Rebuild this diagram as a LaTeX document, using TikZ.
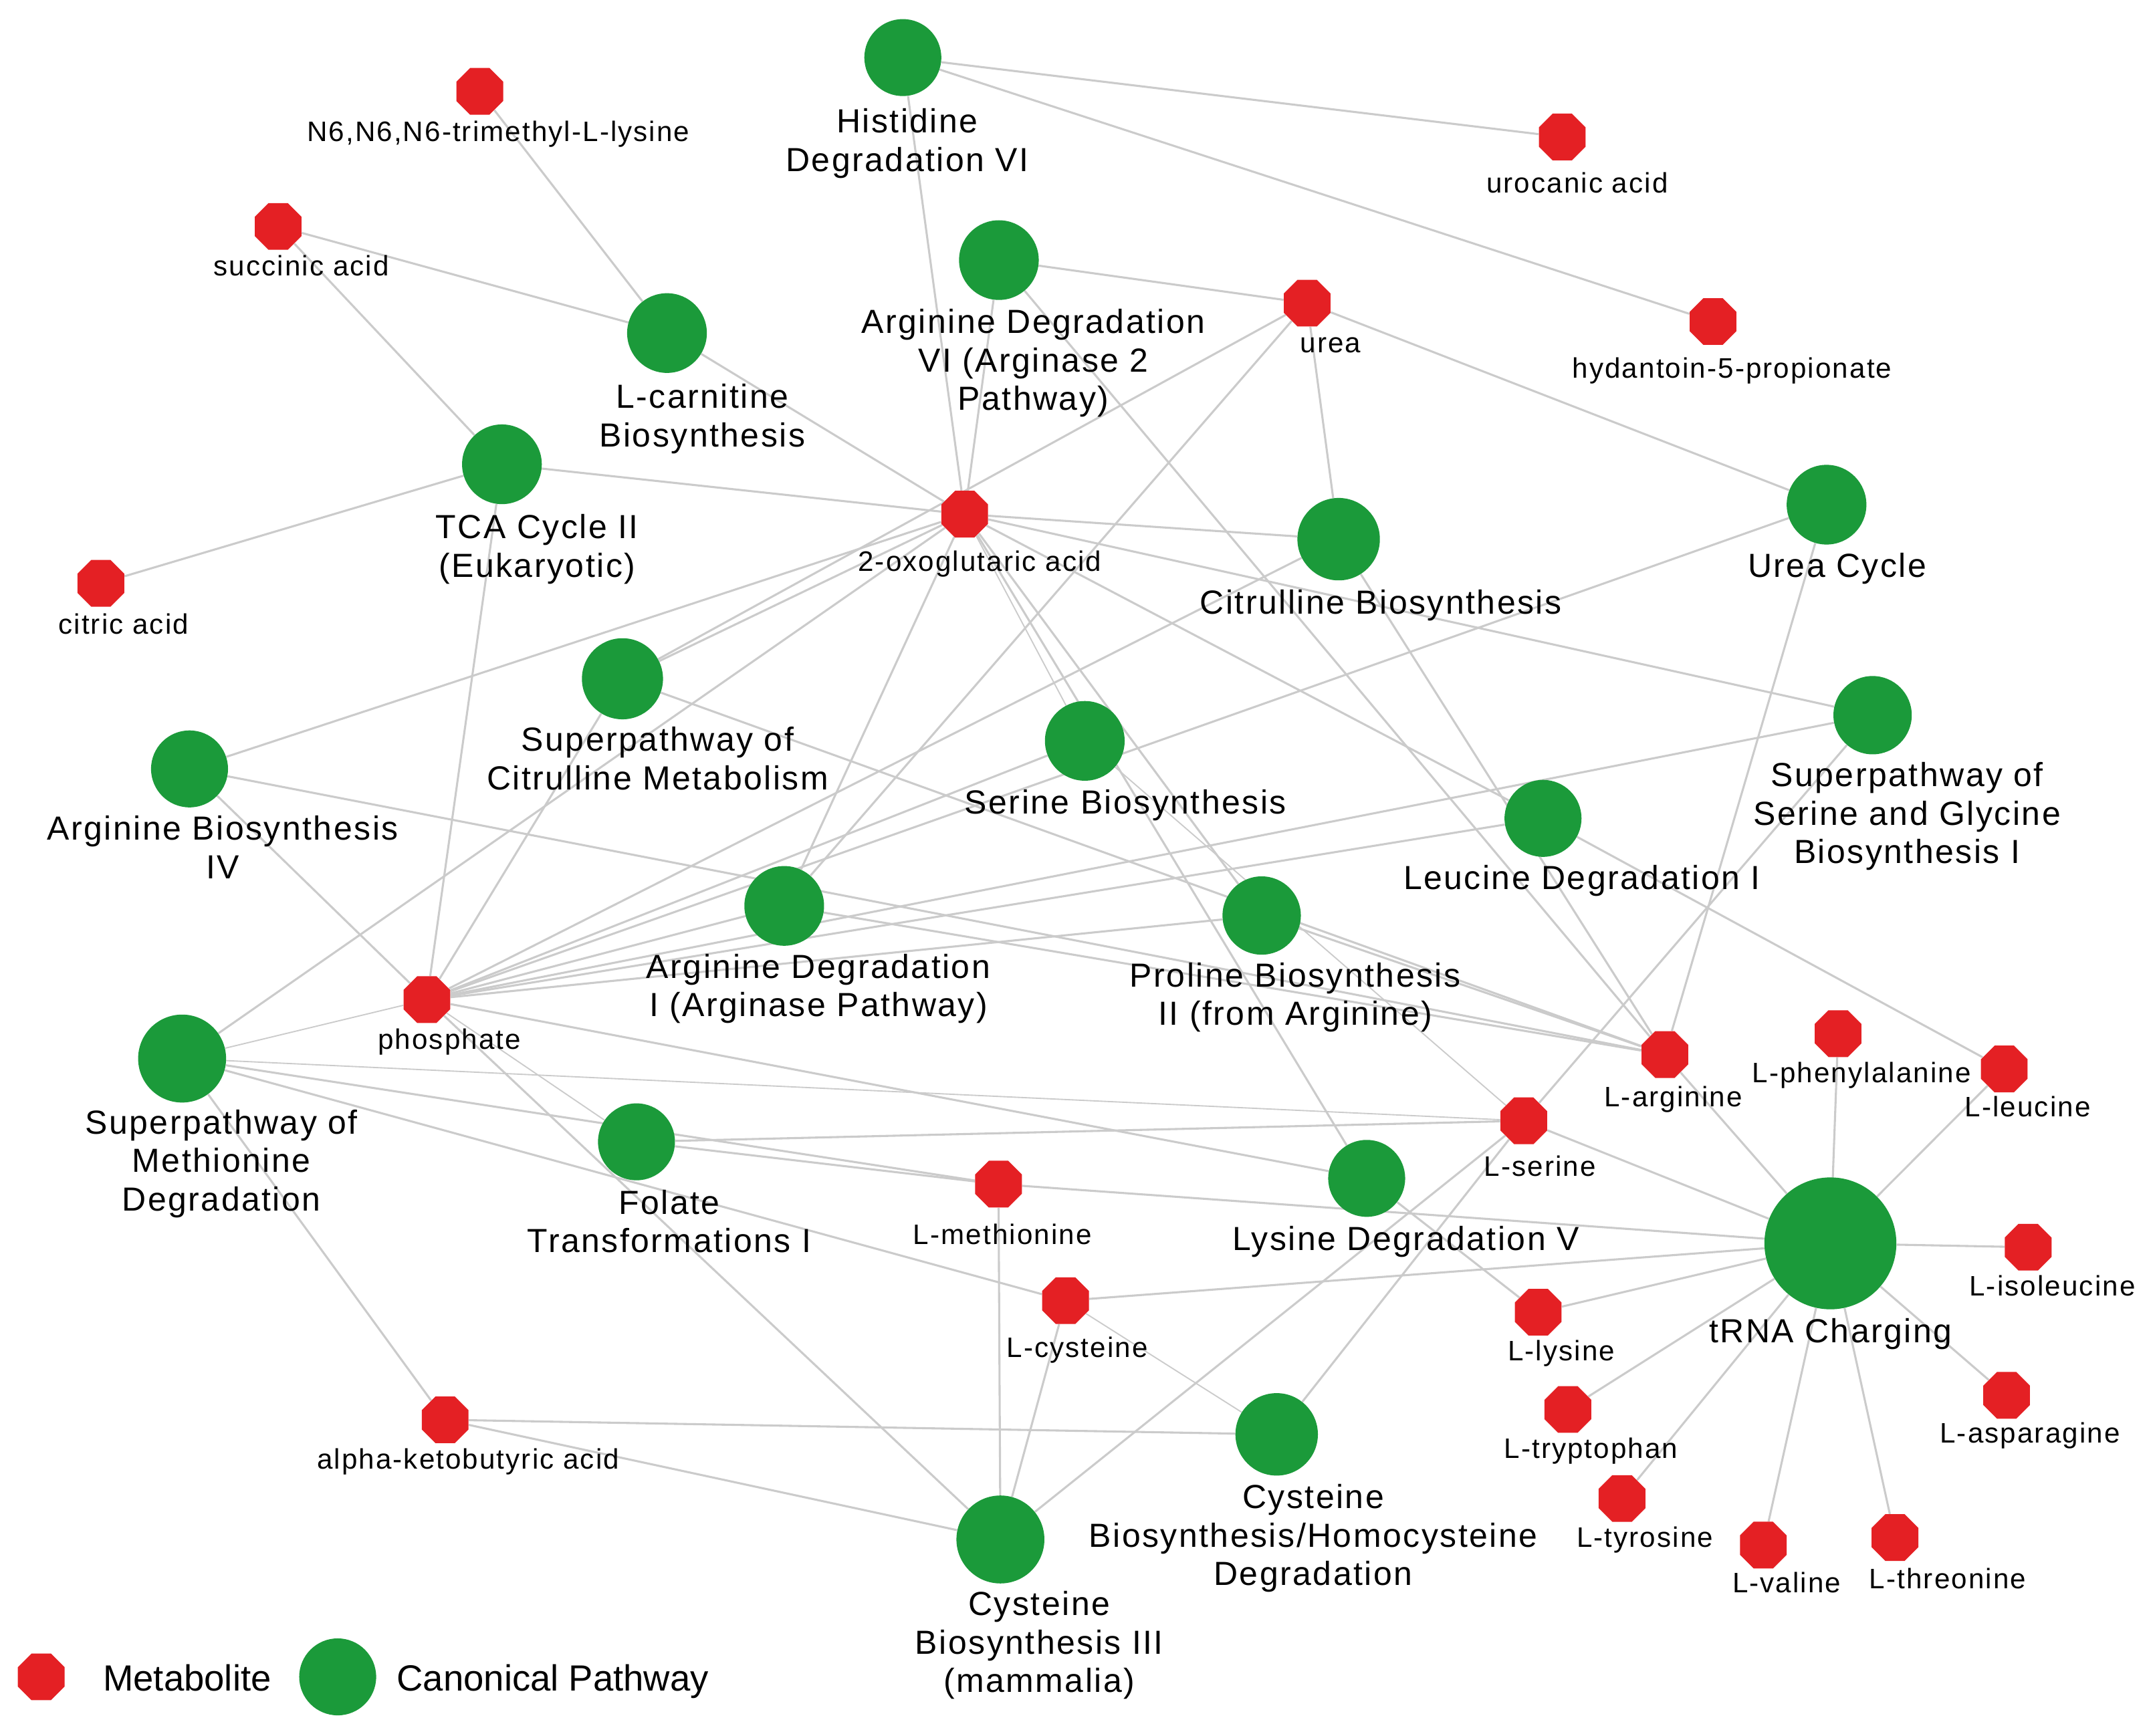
\documentclass[tikz,border=0pt]{standalone}
\usepackage{fontspec}
\setmainfont{Liberation Sans}
\newfontfamily\trk{Liberation Sans}[LetterSpace=5]
\usetikzlibrary{shapes.geometric}
\definecolor{metred}{RGB}{228,32,36}
\definecolor{pathgreen}{RGB}{27,154,58}
\definecolor{edgegray}{RGB}{203,203,203}
\newcommand\plabfont{\trk\fontsize{24.3}{28}\selectfont}
\newcommand\mlabfont{\trk\fontsize{20.5}{23.5}\selectfont}
\newcommand\legfont{\fontsize{26.5}{30}\selectfont}
\pgfdeclarelayer{bglayer}
\pgfdeclarelayer{edgelayer}
\pgfsetlayers{bglayer,edgelayer,main}
\tikzset{
  edge/.style={draw=edgegray, line width=1.5pt},
  thinedge/.style={draw=edgegray, line width=0.9pt},
  metab/.style={regular polygon, regular polygon sides=8, fill=metred, draw=none, minimum size=36.8pt, inner sep=0pt},
  pathw/.style={circle, fill=pathgreen, draw=none, minimum size=58pt, inner sep=0pt},
  plabel/.style={anchor=north, align=center, inner sep=0pt, font=\plabfont},
  mlabel/.style={anchor=base, inner sep=0pt, font=\mlabfont},
  leglabel/.style={anchor=base, inner sep=0pt, font=\legfont}
}
\begin{document}
\begin{tikzpicture}[x=1pt,y=-1pt]
\useasboundingbox (0,0) rectangle (1568,1263);
\begin{pgfonlayer}{bglayer}
\fill[white] (0,0) rectangle (1568,1263);
\end{pgfonlayer}

% ---------- pathways ----------
\node[pathw, minimum size=56pt] (hd) at (656.9,41.9) {};
\node[pathw] (adsix) at (726.8,189.3) {};
\node[pathw] (lc) at (485.3,242.4) {};
\node[pathw] (tca) at (365.2,337.9) {};
\node[pathw, minimum size=60pt] (cb) at (974,392.4) {};
\node[pathw] (uc) at (1329,367.3) {};
\node[pathw, minimum size=59pt] (scm) at (452.9,494) {};
\node[pathw] (sb) at (789.3,539.2) {};
\node[pathw, minimum size=56pt] (abiv) at (137.9,559.6) {};
\node[pathw, minimum size=57pt] (ssg) at (1362.5,520.5) {};
\node[pathw, minimum size=56pt] (ld) at (1122.7,595.6) {};
\node[pathw] (adone) at (570.6,659.3) {};
\node[pathw, minimum size=57pt] (pb) at (918,666.3) {};
\node[pathw, minimum size=64pt] (smd) at (132.5,770.4) {};
\node[pathw, minimum size=56pt] (ft) at (463.1,831) {};
\node[pathw, minimum size=56pt] (ldv) at (994.4,857.6) {};
\node[pathw, minimum size=96pt] (tc) at (1331.8,904.9) {};
\node[pathw, minimum size=60pt] (cbh) at (928.9,1043.9) {};
\node[pathw, minimum size=64pt] (cbiii) at (727.9,1120.4) {};

% ---------- metabolites ----------
\node[metab] (nsix) at (349.1,66.5) {};
\node[metab] (succ) at (202.4,164.8) {};
\node[metab] (uro) at (1136.7,99.7) {};
\node[metab] (urea) at (951.1,220.6) {};
\node[metab] (hyd) at (1246.4,234) {};
\node[metab] (oxo) at (701.9,374.2) {};
\node[metab] (cit) at (73.4,424.5) {};
\node[metab] (phos) at (310.6,727.5) {};
\node[metab] (arg) at (1211.4,767.5) {};
\node[metab] (phe) at (1337.4,752.3) {};
\node[metab] (leu) at (1458.3,778) {};
\node[metab] (ser) at (1108.7,815.7) {};
\node[metab] (met) at (726.5,861.8) {};
\node[metab] (cys) at (775.3,946.6) {};
\node[metab] (lys) at (1119.2,955) {};
\node[metab] (ile) at (1475.7,907.7) {};
\node[metab] (trp) at (1140.8,1025.8) {};
\node[metab] (asn) at (1460,1015.5) {};
\node[metab] (akb) at (323.9,1033.3) {};
\node[metab] (tyr) at (1180.2,1090.6) {};
\node[metab] (val) at (1283,1124.5) {};
\node[metab] (thr) at (1378.8,1119) {};

% ---------- edges ----------
\begin{pgfonlayer}{edgelayer}
\foreach \a/\b in {hd/uro, hd/hyd, hd/oxo,
  adsix/urea, adsix/oxo, adsix/arg,
  lc/nsix, lc/succ, lc/oxo,
  tca/succ, tca/cit, tca/oxo, tca/phos,
  cb/urea, cb/oxo, cb/arg, cb/phos,
  uc/urea, uc/arg, uc/phos,
  scm/oxo, scm/urea, scm/phos, scm/arg,
  sb/phos,
  abiv/oxo, abiv/phos, abiv/arg,
  ssg/oxo, ssg/phos, ssg/ser,
  ld/oxo, ld/leu, ld/phos,
  adone/urea, adone/oxo, adone/arg, adone/phos,
  pb/oxo, pb/arg, pb/phos,
  smd/oxo, smd/met, smd/cys, smd/akb,
  ft/ser, ft/met,
  ldv/oxo, ldv/phos, ldv/lys,
  tc/arg, tc/phe, tc/leu, tc/ser, tc/met, tc/cys, tc/lys, tc/ile, tc/trp, tc/asn, tc/tyr, tc/val, tc/thr,
  cbh/ser, cbh/akb,
  cbiii/akb, cbiii/met, cbiii/cys, cbiii/ser, cbiii/phos}
  \draw[edge] (\a) -- (\b);
\foreach \a/\b in {sb/oxo, sb/ser, smd/phos, smd/ser, ft/phos, cbh/cys}
  \draw[thinedge] (\a) -- (\b);
\end{pgfonlayer}

% ---------- pathway labels ----------
\node[plabel] (hdlab) at (660.1,79) {Histidine\\Degradation VI};
\node[plabel] (adsixlab) at (751.9,224.8) {Arginine Degradation\\VI (Arginase 2\\Pathway)};
\node[plabel] (lclab) at (511,279.3) {L-carnitine\\Biosynthesis};
\node[plabel] (tcalab) at (390.8,374.2) {TCA Cycle II\\(Eukaryotic)};
\node[plabel] (cblab) at (1004.7,428.9) {Citrulline Biosynthesis};
\node[plabel] (uclab) at (1336.7,402.2) {Urea Cycle};
\node[plabel] (scmlab) at (478.5,528.8) {Superpathway of\\Citrulline Metabolism};
\node[plabel] (sblab) at (819,574.3) {Serine Biosynthesis};
\node[plabel] (abivlab) at (162.1,593.7) {Arginine Biosynthesis\\IV};
\node[plabel] (ssglab) at (1387.6,554.6) {Superpathway of\\Serine and Glycine\\Biosynthesis I};
\node[plabel] (ldlab) at (1151,629.3) {Leucine Degradation I};
\node[plabel] (adonelab) at (595.5,694.1) {Arginine Degradation\\I (Arginase Pathway)};
\node[plabel] (pblab) at (942.5,700.3) {Proline Biosynthesis\\II (from Arginine)};
\node[plabel] (smdlab) at (161.1,807.3) {Superpathway of\\Methionine\\Degradation};
\node[plabel] (ftlab) at (487,865.7) {Folate\\Transformations I};
\node[plabel] (ldvlab) at (1022.9,892.3) {Lysine Degradation V};
\node[plabel] (tclab) at (1332,959.1) {tRNA Charging};
\node[plabel] (cbhlab) at (955.5,1080) {Cysteine\\Biosynthesis/Homocysteine\\Degradation};
\node[plabel] (cbiiilab) at (756.2,1157.9) {Cysteine\\Biosynthesis III\\(mammalia)};

% ---------- metabolite labels ----------
\node[mlabel] (nsixlab) at (362.6,102.8) {N6,N6,N6-trimethyl-L-lysine};
\node[mlabel] (succlab) at (219.3,200.5) {succinic acid};
\node[mlabel] (urolab) at (1147.6,140.5) {urocanic acid};
\node[mlabel] (urealab) at (968.1,256.4) {urea};
\node[mlabel] (hydlab) at (1260.3,275.1) {hydantoin-5-propionate};
\node[mlabel] (oxolab) at (712.9,415.9) {2-oxoglutaric acid};
\node[mlabel] (citlab) at (89.9,461.5) {citric acid};
\node[mlabel] (phoslab) at (327,763.6) {phosphate};
\node[mlabel] (arglab) at (1217.5,805.4) {L-arginine};
\node[mlabel] (phelab) at (1354.5,787.8) {L-phenylalanine};
\node[mlabel] (leulab) at (1475.4,812.9) {L-leucine};
\node[mlabel] (serlab) at (1120.5,856.2) {L-serine};
\node[mlabel] (metlab) at (729.4,905.7) {L-methionine};
\node[mlabel] (cyslab) at (783.8,987.7) {L-cysteine};
\node[mlabel] (lyslab) at (1136,990.5) {L-lysine};
\node[mlabel] (ilelab) at (1493.3,943) {L-isoleucine};
\node[mlabel] (trplab) at (1157.6,1061.4) {L-tryptophan};
\node[mlabel] (asnlab) at (1477,1050.3) {L-asparagine};
\node[mlabel] (akblab) at (340.6,1068.9) {alpha-ketobutyric acid};
\node[mlabel] (tyrlab) at (1196.8,1125.9) {L-tyrosine};
\node[mlabel] (vallab) at (1300,1159.3) {L-valine};
\node[mlabel] (thrlab) at (1417.2,1156.4) {L-threonine};

% ---------- legend ----------
\node[metab] (legmet) at (30,1220.4) {};
\node[leglabel] (legmettext) at (136.2,1230.7) {Metabolite};
\node[pathw, minimum size=56pt] (legpath) at (245.7,1220.4) {};
\node[leglabel] (legpathtext) at (402.2,1230.7) {Canonical Pathway};
\end{tikzpicture}
\end{document}
